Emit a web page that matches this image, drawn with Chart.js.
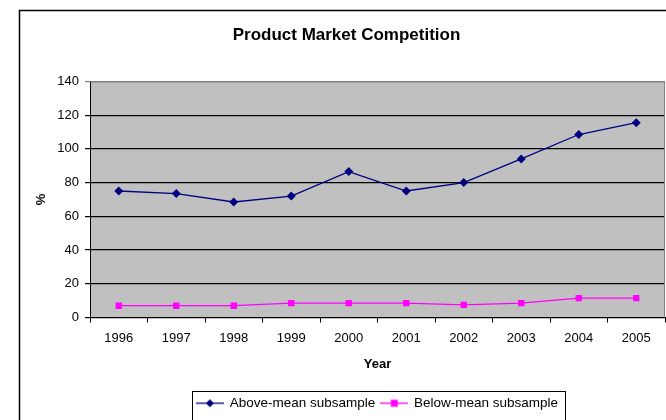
<!DOCTYPE html>
<html>
<head>
<meta charset="utf-8">
<title>Product Market Competition</title>
<script src="https://cdn.jsdelivr.net/npm/chart.js@4.4.1/dist/chart.umd.min.js"></script>
<style>
  html, body { margin: 0; padding: 0; background: #fff; }
  #wrap { width: 666px; height: 420px; }
</style>
</head>
<body>
<div id="wrap"><canvas id="pmcChart" width="666" height="420"></canvas></div>
<script>
// Данные графика
const years = ['1996', '1997', '1998', '1999', '2000', '2001', '2002', '2003', '2004', '2005'];
const aboveMean = [75, 73.5, 68.5, 72, 86.5, 75, 80, 94, 108.5, 115.5];
const belowMean = [7, 7, 7, 8.5, 8.5, 8.5, 7.5, 8.5, 11.5, 11.5];
const yTicks = [0, 20, 40, 60, 80, 100, 120, 140];

const FONT = "'Liberation Sans', Arial, sans-serif";
const NAVY = '#000080';
const MAGENTA = '#FF00FF';

// Значок легенды: линия с маркером посередине
function makeLegendIcon(color, shape) {
  const c = document.createElement('canvas');
  c.width = 28;
  c.height = 10;
  const g = c.getContext('2d');
  g.strokeStyle = color;
  g.lineWidth = 1.3;
  g.beginPath();
  g.moveTo(0, 5);
  g.lineTo(28, 5);
  g.stroke();
  g.fillStyle = color;
  g.beginPath();
  if (shape === 'diamond') {
    g.moveTo(14, 1); g.lineTo(18, 5); g.lineTo(14, 9); g.lineTo(10, 5);
  } else {
    g.rect(10.5, 1.5, 7, 7);
  }
  g.closePath();
  g.fill();
  return c;
}
const legendIcons = [makeLegendIcon(NAVY, 'diamond'), makeLegendIcon(MAGENTA, 'square')];

// Фон, рамка и серая область построения
const framePlugin = {
  id: 'frame',
  beforeDraw(chart) {
    const ctx = chart.ctx;
    const a = chart.chartArea;
    ctx.save();
    ctx.fillStyle = '#fff';
    ctx.fillRect(0, 0, chart.width, chart.height);
    ctx.strokeStyle = '#000';
    ctx.lineWidth = 1.5;
    ctx.beginPath();
    ctx.moveTo(19.5, chart.height);
    ctx.lineTo(19.5, 10.5);
    ctx.lineTo(chart.width, 10.5);
    ctx.stroke();
    ctx.fillStyle = '#C0C0C0';
    ctx.fillRect(a.left, a.top, a.right - a.left, a.bottom - a.top);
    ctx.restore();
  },
  afterDatasetsDraw(chart) {
    const ctx = chart.ctx;
    const a = chart.chartArea;
    ctx.save();
    ctx.strokeStyle = '#808080';
    ctx.lineWidth = 1;
    ctx.beginPath();
    ctx.moveTo(a.left, a.top + 0.5);
    ctx.lineTo(a.right - 0.5, a.top + 0.5);
    ctx.lineTo(a.right - 0.5, a.bottom);
    ctx.stroke();
    ctx.restore();
  },
  afterDraw(chart) {
    // рамка вокруг легенды
    const lg = chart.legend;
    if (!lg || !lg.legendHitBoxes.length) return;
    const boxes = lg.legendHitBoxes;
    const first = boxes[0];
    const last = boxes[boxes.length - 1];
    const ctx = chart.ctx;
    ctx.save();
    ctx.strokeStyle = '#000';
    ctx.lineWidth = 1;
    const x0 = Math.round(first.left - 5) + 0.5;
    const x1 = Math.round(last.left + last.width + 7) + 0.5;
    const y0 = Math.round(lg.top) + 0.5;
    ctx.strokeRect(x0, y0, x1 - x0, 33);
    ctx.restore();
  }
};

const ctx = document.getElementById('pmcChart').getContext('2d');
new Chart(ctx, {
  type: 'line',
  data: {
    labels: years,
    datasets: [
      {
        label: 'Above-mean subsample',
        data: aboveMean,
        borderColor: NAVY,
        backgroundColor: NAVY,
        borderWidth: 1.3,
        pointStyle: 'rectRot',
        pointRadius: 4.5,
        pointBorderWidth: 0,
        tension: 0
      },
      {
        label: 'Below-mean subsample',
        data: belowMean,
        borderColor: MAGENTA,
        backgroundColor: MAGENTA,
        borderWidth: 1.3,
        pointStyle: 'rect',
        pointRadius: 4.5,
        pointBorderWidth: 0,
        tension: 0
      }
    ]
  },
  options: {
    responsive: false,
    animation: false,
    layout: { autoPadding: false, padding: { left: 28, right: 1, top: 0, bottom: 0 } },
    plugins: {
      title: {
        display: true,
        text: 'Product Market Competition',
        color: '#000',
        font: { family: FONT, size: 17, weight: 'bold' },
        padding: { top: 25, bottom: 36 }
      },
      legend: {
        position: 'bottom',
        fullSize: false,
        labels: {
          color: '#000',
          font: { family: FONT, size: 13.5 },
          usePointStyle: true,
          pointStyleWidth: 26,
          padding: 6,
          generateLabels(chart) {
            const items = Chart.defaults.plugins.legend.labels.generateLabels(chart);
            return items.map((it, i) => Object.assign(it, { pointStyle: legendIcons[i] }));
          }
        }
      },
      tooltip: { enabled: false }
    },
    scales: {
      x: {
        offset: true,
        afterFit(scale) {
          scale.height = 73;
          scale.paddingLeft = 0;
          scale.paddingRight = 0;
        },
        grid: { offset: true, drawOnChartArea: false, tickLength: 5, color: '#000' },
        border: { color: '#000', width: 1 },
        ticks: { color: '#000', font: { family: FONT, size: 13 }, padding: 8, maxRotation: 0 },
        title: {
          display: true,
          text: 'Year',
          color: '#000',
          font: { family: FONT, size: 13, weight: 'bold' },
          padding: { top: 4, bottom: 18 }
        }
      },
      y: {
        min: 0,
        max: 140,
        afterFit(scale) { scale.width = 62; },
        afterBuildTicks(scale) { scale.ticks = yTicks.map(v => ({ value: v })); },
        grid: {
          tickLength: 5,
          lineWidth: 1.2,
          color: c => (c.tick && c.tick.value === 140 ? '#808080' : '#000')
        },
        border: { color: '#000', width: 1 },
        ticks: { color: '#000', font: { family: FONT, size: 13 }, padding: 6 },
        title: {
          display: true,
          text: '%',
          color: '#000',
          font: { family: FONT, size: 13, weight: 'bold' },
          padding: { top: 6, bottom: 6 }
        }
      }
    }
  },
  plugins: [framePlugin]
});
</script>
</body>
</html>
